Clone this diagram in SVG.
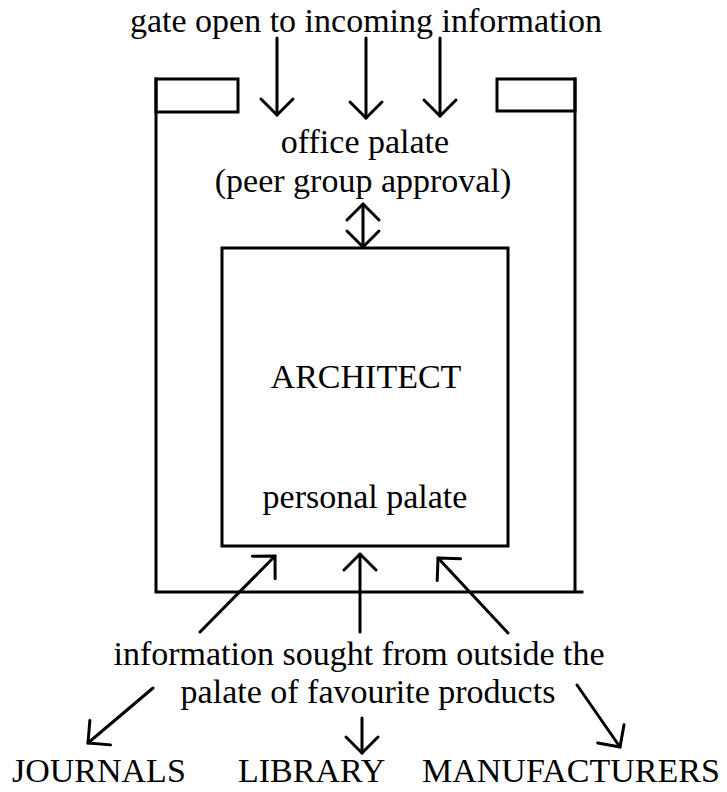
<svg xmlns="http://www.w3.org/2000/svg" width="727" height="792" viewBox="0 0 727 792">
  <defs>
    <style>
      .t { font-family: "Liberation Serif", "Times New Roman", serif; font-size: 34px; fill: #000; }
      .c { text-anchor: middle; }
      .ln { fill: none; stroke: #000; stroke-width: 3; stroke-linecap: square; }
      .ar { fill: none; stroke: #000; stroke-width: 3; stroke-linecap: round; marker-end: url(#ah); }
      .ar2 { marker-start: url(#ah); }
    </style>
    <marker id="ah" viewBox="-20 -20 40 40" markerWidth="40" markerHeight="40" markerUnits="userSpaceOnUse" orient="auto-start-reverse" refX="0" refY="0">
      <path d="M-16,-16 L0,0 L-16,16" fill="none" stroke="#000" stroke-width="3" stroke-linecap="round" stroke-linejoin="round"/>
    </marker>
  </defs>
  <rect width="727" height="792" fill="#fff"/>

  <g id="gate-label">
    <text class="t c" x="366" y="32">gate open to incoming information</text>
  </g>

  <g id="office-palate">
    <rect class="ln" x="156" y="79" width="82" height="33"/>
    <rect class="ln" x="497" y="79" width="78" height="32"/>
    <path class="ln" d="M156,79 L156,592 L582,592 M575,79 L575,592"/>
    <text class="t c" x="365" y="153">office palate</text>
    <text class="t c" x="363" y="192">(peer group approval)</text>
  </g>

  <g id="architect">
    <rect class="ln" x="222" y="248" width="286" height="298"/>
    <text class="t c" x="366" y="388">ARCHITECT</text>
    <text class="t c" x="365" y="508">personal palate</text>
  </g>

  <g id="information-sought">
    <text class="t c" x="359" y="665">information sought from outside the</text>
    <text class="t c" x="368" y="703">palate of favourite products</text>
  </g>

  <g id="journals">
    <text class="t" x="12" y="782">JOURNALS</text>
  </g>
  <g id="library">
    <text class="t" x="238" y="782">LIBRARY</text>
  </g>
  <g id="manufacturers">
    <text class="t" x="422" y="782">MANUFACTURERS</text>
  </g>

  <g id="connectors">
    <line class="ar" x1="277" y1="38" x2="277" y2="115"/>
    <line class="ar" x1="366" y1="38" x2="366" y2="118"/>
    <line class="ar" x1="440" y1="38" x2="440" y2="116"/>
    <line class="ar ar2" x1="363" y1="204" x2="363" y2="247"/>
    <line class="ar" x1="200" y1="632" x2="275" y2="556"/>
    <line class="ar" x1="360" y1="632" x2="360" y2="554"/>
    <line class="ar" x1="508" y1="633" x2="438" y2="558"/>
    <line class="ar" x1="153" y1="688" x2="88" y2="743"/>
    <line class="ar" x1="362" y1="718" x2="362" y2="753"/>
    <line class="ar" x1="577" y1="685" x2="620" y2="747"/>
  </g>
</svg>
